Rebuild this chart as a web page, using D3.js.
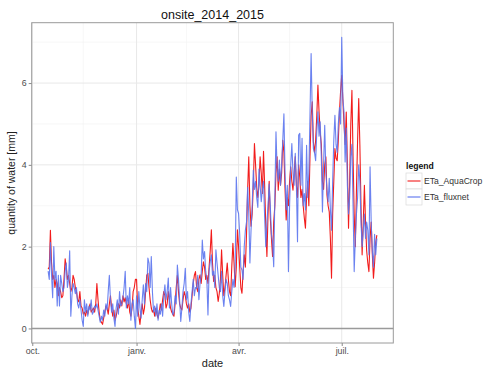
<!DOCTYPE html>
<html><head><meta charset="utf-8">
<script src="https://cdn.jsdelivr.net/npm/d3@7"></script>
<style>body{margin:0;background:#fff}svg{display:block;font-family:"Liberation Sans",Arial,sans-serif}</style>
</head><body><svg id="c" width="485" height="369"></svg>
<script>
const startDate = "2014-10-15";
const seriesNames = ["ETa_AquaCrop", "ETa_fluxnet"];
const seriesColors = ["#f21c1c", "#5b74ee"];
const xTickLabels = ["oct.", "janv.", "avr.", "juil."];
const xTickDates = ["2014-10-01", "2015-01-01", "2015-04-01", "2015-07-01"];
const yTicks = [0, 2, 4, 6];

const aquacrop = [
1.45,1.5,2.4,1.6,1.2,1.3,1.0,1.2,1.1,0.8,
1.0,0.9,0.75,0.8,1.2,1.7,1.5,1.2,1.3,1.1,
0.9,1.0,1.3,1.2,1.0,0.9,0.7,0.65,0.9,0.55,
0.5,0.35,0.4,0.3,0.45,0.35,0.5,0.6,0.4,0.45,
0.5,0.4,0.6,1.1,0.7,0.4,0.2,0.15,0.1,0.25,
0.4,0.55,0.5,0.35,0.6,0.8,0.5,0.3,0.45,0.2,
0.3,0.45,0.6,0.5,0.7,0.55,0.8,0.65,0.75,0.6,
0.5,0.7,0.4,0.3,0.5,0.9,1.0,1.2,1.2,0.5,
0.3,0.1,0.4,0.6,0.35,0.5,0.9,1.3,1.35,1.0,
0.7,0.5,0.4,0.45,0.3,0.5,0.35,0.25,0.4,0.6,
0.45,0.7,0.9,0.8,0.5,0.6,0.9,0.7,0.5,0.4,
0.35,0.3,0.6,1.0,1.3,0.9,0.6,0.5,0.45,0.7,
0.9,0.8,0.6,0.5,0.6,0.4,0.5,0.8,1.1,1.3,
1.39,1.0,0.9,1.2,1.31,1.1,1.4,1.63,1.5,1.2,
1.3,1.1,1.5,1.9,2.41,1.6,1.15,1.3,1.0,0.9,
0.66,0.86,1.2,1.92,1.3,0.8,1.0,1.3,1.6,1.2,
0.9,0.8,1.5,2.08,1.6,1.02,1.5,2.41,2.0,1.5,
1.0,0.86,1.4,1.8,1.5,2.3,3.4,4.2,3.0,2.5,
2.8,3.5,4.52,4.0,3.45,3.2,3.5,4.2,3.8,3.3,
4.33,3.5,2.5,1.76,2.8,3.6,2.7,2.2,1.76,2.6,
3.0,3.8,4.2,3.38,3.9,3.5,3.8,4.6,4.3,3.4,
2.65,3.2,3.0,3.6,3.95,3.6,3.38,3.8,4.2,3.5,
3.2,4.0,3.7,3.2,3.4,3.0,2.7,2.45,3.2,3.6,
3.0,4.2,5.2,5.54,4.56,4.3,4.6,5.2,5.95,5.3,
4.8,4.5,3.6,3.4,4.0,4.2,3.26,3.0,2.85,2.2,
1.23,2.8,3.6,4.4,4.16,4.1,4.6,5.3,5.8,6.19,
5.6,5.0,4.5,5.29,4.0,2.45,3.6,5.0,5.82,4.2,
2.8,2.0,3.4,4.6,5.62,4.5,3.0,1.8,2.6,3.5,
2.6,1.9,1.6,1.39,2.2,2.6,1.8,1.23,1.6,2.1,2.28
];
const fluxnet = [
1.4,1.2,2.1,1.3,0.75,2.0,1.2,1.4,0.55,1.3,
0.55,1.3,1.1,0.9,1.0,1.4,1.6,1.0,1.2,1.9,
0.3,0.8,1.1,1.0,0.85,1.0,0.6,0.5,0.7,0.45,
0.2,0.05,0.7,0.4,0.6,0.3,0.55,0.45,0.7,0.35,
0.4,0.55,0.5,0.6,0.45,0.3,0.15,0.3,0.2,0.45,
0.3,0.6,0.45,0.9,1.3,0.7,0.4,0.6,0.25,0.05,
0.5,0.7,0.35,0.9,0.55,0.6,0.75,1.0,1.4,0.5,
0.8,0.6,1.0,0.2,0.6,0.7,0.3,0.0,0.8,0.3,
0.9,0.5,0.25,0.7,1.07,0.6,1.1,0.9,1.72,1.6,
1.0,1.76,0.9,0.4,0.55,0.3,0.6,0.2,0.45,0.35,
0.6,0.3,0.8,1.07,0.7,0.9,1.23,0.5,1.0,0.6,
0.33,0.4,0.8,0.6,1.55,1.2,0.7,0.17,0.5,0.9,
1.1,1.47,0.7,0.9,0.4,0.17,0.6,0.9,1.2,0.8,
1.0,0.98,1.3,0.7,1.1,1.3,2.16,1.7,1.88,1.4,
1.2,0.33,1.4,1.63,1.8,1.3,1.4,1.0,1.92,1.6,
1.3,1.0,0.9,1.4,0.8,0.54,0.9,1.2,1.1,0.8,
0.7,0.54,0.9,1.2,1.0,1.5,3.7,2.9,2.81,2.3,
1.5,1.43,1.2,2.0,2.4,2.6,3.45,2.8,1.6,2.4,
3.0,3.87,3.4,3.6,3.2,2.96,3.9,3.5,3.1,3.4,
3.6,2.73,2.0,2.6,3.0,3.53,3.0,2.3,2.1,1.51,
3.2,4.81,3.9,3.6,4.12,3.5,4.0,4.6,5.25,3.8,
2.9,3.5,1.39,3.0,4.0,4.52,3.8,3.5,4.28,3.5,
2.12,4.73,4.77,3.5,4.65,3.0,3.3,2.9,4.48,3.2,
3.8,5.2,6.72,5.3,4.4,4.3,4.1,4.8,5.3,4.7,
5.05,4.2,2.85,4.0,4.97,3.8,3.4,3.1,3.67,2.9,
2.4,3.6,4.6,5.21,4.5,4.3,5.0,5.4,5.0,7.12,
5.62,5.3,4.07,4.9,3.5,2.8,3.2,4.2,4.5,3.0,
1.39,2.2,2.8,3.2,4.0,3.6,2.6,2.0,2.4,2.8,
2.2,2.6,2.4,1.8,3.95,2.6,1.9,1.5,2.3,1.8,2.2
];

const svg = d3.select("#c");
const P = {l: 31.7, r: 393.3, t: 22.7, b: 343};
const parse = d3.utcParse("%Y-%m-%d");
const t0 = parse(startDate);
const dates = aquacrop.map((_, i) => d3.utcDay.offset(t0, i));
const series = [aquacrop, fluxnet];

const ext = d3.extent(dates);
const span = ext[1] - ext[0];
const x = d3.scaleUtc()
  .domain([new Date(+ext[0] - span * 0.05), new Date(+ext[1] + span * 0.05)])
  .range([P.l, P.r]);
const allV = aquacrop.concat(fluxnet);
const ymin = d3.min(allV), ymax = d3.max(allV), yr = ymax - ymin;
const y = d3.scaleLinear().domain([ymin - yr * 0.05, ymax + yr * 0.05]).range([P.b, P.t]);

// grid
const g = svg.append("g");
const minorY = [1, 3, 5, 7];
minorY.forEach(v => g.append("line").attr("x1", P.l).attr("x2", P.r).attr("y1", y(v)).attr("y2", y(v)).attr("stroke", "#f2f2f2").attr("stroke-width", 0.6));
const majD = xTickDates.map(parse);
const minorX = ["2014-08-16","2014-11-15","2015-02-14","2015-05-16","2015-08-16"].map(parse).filter(d => x(d) > P.l && x(d) < P.r);
minorX.forEach(d => g.append("line").attr("x1", x(d)).attr("x2", x(d)).attr("y1", P.t).attr("y2", P.b).attr("stroke", "#f2f2f2").attr("stroke-width", 0.6));
yTicks.forEach(v => g.append("line").attr("x1", P.l).attr("x2", P.r).attr("y1", y(v)).attr("y2", y(v)).attr("stroke", "#e8e8e8").attr("stroke-width", 1));
majD.forEach(d => g.append("line").attr("x1", x(d)).attr("x2", x(d)).attr("y1", P.t).attr("y2", P.b).attr("stroke", "#e8e8e8").attr("stroke-width", 1));

// zero line
svg.append("line").attr("x1", P.l).attr("x2", P.r).attr("y1", y(0)).attr("y2", y(0)).attr("stroke", "#9a9a9a").attr("stroke-width", 1.6);

// lines
const line = d3.line().x((d, i) => x(dates[i])).y(d => y(d));
series.forEach((s, k) => {
  svg.append("path").datum(s).attr("d", line).attr("fill", "none")
    .attr("stroke", seriesColors[k]).attr("stroke-width", 1.1)
    .attr("stroke-opacity", k === 1 ? 0.9 : 1).attr("stroke-linejoin", "round");
});

// panel border
svg.append("rect").attr("x", P.l).attr("y", P.t).attr("width", P.r - P.l).attr("height", P.b - P.t)
  .attr("fill", "none").attr("stroke", "#9a9a9a").attr("stroke-width", 1);

// axes
const xAxis = d3.axisBottom(x).tickValues(majD).tickFormat((d, i) => xTickLabels[i]).tickSize(3).tickPadding(2);
const ax = svg.append("g").attr("transform", `translate(0,${P.b})`).call(xAxis);
const yAxis = d3.axisLeft(y).tickValues(yTicks).tickFormat(d3.format("d")).tickSize(3).tickPadding(2);
const ay = svg.append("g").attr("transform", `translate(${P.l},0)`).call(yAxis);
[ax, ay].forEach(a => {
  a.select(".domain").remove();
  a.selectAll(".tick line").attr("stroke", "#8a8a8a");
  a.selectAll(".tick text").attr("fill", "#4d4d4d").style("font-size", "8.8px").style("font-family", "Liberation Sans, Arial, sans-serif");
});

// titles
svg.append("text").attr("x", 212.5).attr("y", 19).attr("text-anchor", "middle").style("font-size", "12.5px").attr("fill", "#111").text("onsite_2014_2015");
svg.append("text").attr("x", 212.5).attr("y", 367).attr("text-anchor", "middle").style("font-size", "11px").attr("fill", "#222").text("date");
svg.append("text").attr("transform", "translate(15,183) rotate(-90)").attr("text-anchor", "middle").style("font-size", "10.5px").attr("fill", "#222").text("quantity of water [mm]");

// legend
const lg = svg.append("g");
lg.append("text").attr("x", 406).attr("y", 169).style("font-size", "8.6px").style("font-weight", "bold").attr("fill", "#111").text("legend");
seriesNames.forEach((n, k) => {
  const cy = 181 + k * 16;
  lg.append("rect").attr("x", 406).attr("y", cy - 8).attr("width", 16).attr("height", 16).attr("fill", "#fff").attr("stroke", "#d9d9d9").attr("stroke-width", 0.7);
  lg.append("line").attr("x1", 407.5).attr("x2", 420.5).attr("y1", cy).attr("y2", cy).attr("stroke", seriesColors[k]).attr("stroke-width", 1.1);
  lg.append("text").attr("x", 424).attr("y", cy + 3).style("font-size", "8.6px").attr("fill", "#333").text(n);
});
</script></body></html>
